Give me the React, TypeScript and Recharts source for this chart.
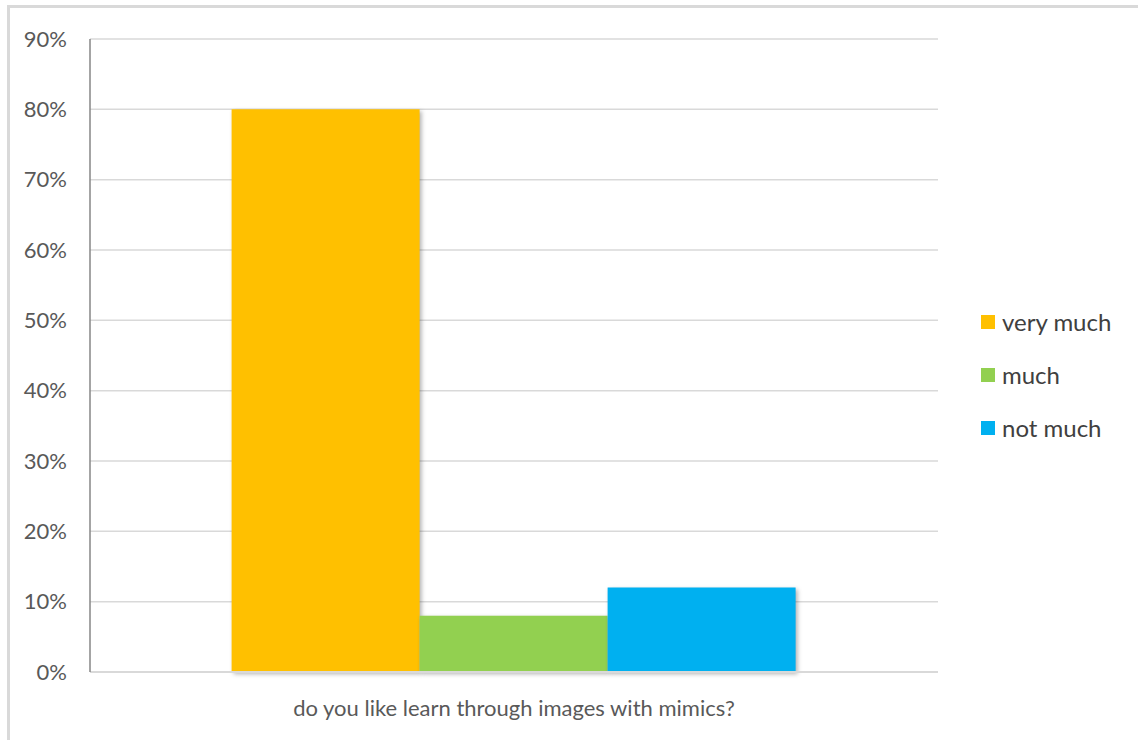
import React from "react";
import { BarChart, Bar, XAxis, YAxis, CartesianGrid, Legend, Rectangle } from "recharts";

const categories = ["do you like learn through images with mimics?"];
const seriesNames = ["very much", "much", "not much"];
const seriesKeys = ["veryMuch", "much", "notMuch"];
const seriesValues = [0.8, 0.08, 0.12];
const seriesColors = ["#FFC000", "#92D050", "#00B0F0"];
const yTicks = [0, 0.1, 0.2, 0.3, 0.4, 0.5, 0.6, 0.7, 0.8, 0.9];

const data = categories.map((name) => {
  const row: Record<string, string | number> = { name };
  seriesKeys.forEach((k, i) => {
    row[k] = seriesValues[i];
  });
  return row;
});

const FONT = "Lato, 'Open Sans', sans-serif";

const ShadowBar = (props: any) => (
  <Rectangle {...props} style={{ filter: "drop-shadow(2px 2px 2px rgba(0,0,0,0.3))" }} />
);

const LegendBox = () => (
  <div style={{ fontFamily: FONT }}>
    {seriesNames.map((n, i) => (
      <div key={n} style={{ display: "flex", alignItems: "center", height: 53 }}>
        <span
          style={{
            display: "inline-block",
            width: 14,
            height: 14,
            background: seriesColors[i],
            marginRight: 7,
          }}
        />
        <span style={{ fontSize: 24, color: "#404040" }}>{n}</span>
      </div>
    ))}
  </div>
);

const App: React.FC = () => {
  return (
    <div
      style={{
        position: "absolute",
        top: 5,
        left: 7,
        width: 1131,
        height: 735,
        borderTop: "3px solid #d9d9d9",
        borderLeft: "3px solid #d9d9d9",
        background: "#fff",
        overflow: "hidden",
      }}
    >
      <BarChart
        width={1128}
        height={732}
        data={data}
        margin={{ top: 31, right: 40, bottom: 38, left: 0 }}
        barCategoryGap="16.7%"
        barGap={0}
      >
        <CartesianGrid vertical={false} stroke="#d9d9d9" strokeWidth={1.5} />
        <XAxis
          dataKey="name"
          height={30}
          tickLine={false}
          axisLine={{ stroke: "#d9d9d9", strokeWidth: 2 }}
          tickMargin={22}
          tick={{ fontSize: 22, fill: "#595959", fontFamily: FONT }}
        />
        <YAxis
          width={80}
          domain={[0, 0.9]}
          ticks={yTicks}
          tickFormatter={(v: number) => `${Math.round(v * 100)}%`}
          tickLine={false}
          tickSize={0}
          tickMargin={23}
          axisLine={{ stroke: "#868686", strokeWidth: 1.5 }}
          tick={{ fontSize: 22, fill: "#595959", fontFamily: FONT }}
        />
        <Legend
          layout="vertical"
          align="right"
          verticalAlign="middle"
          content={<LegendBox />}
          wrapperStyle={{ left: 971, top: 287, width: 160 }}
        />
        {seriesKeys.map((k, i) => (
          <Bar
            key={k}
            dataKey={k}
            name={seriesNames[i]}
            fill={seriesColors[i]}
            shape={<ShadowBar />}
            isAnimationActive={false}
          />
        ))}
      </BarChart>
    </div>
  );
};

export default App;
